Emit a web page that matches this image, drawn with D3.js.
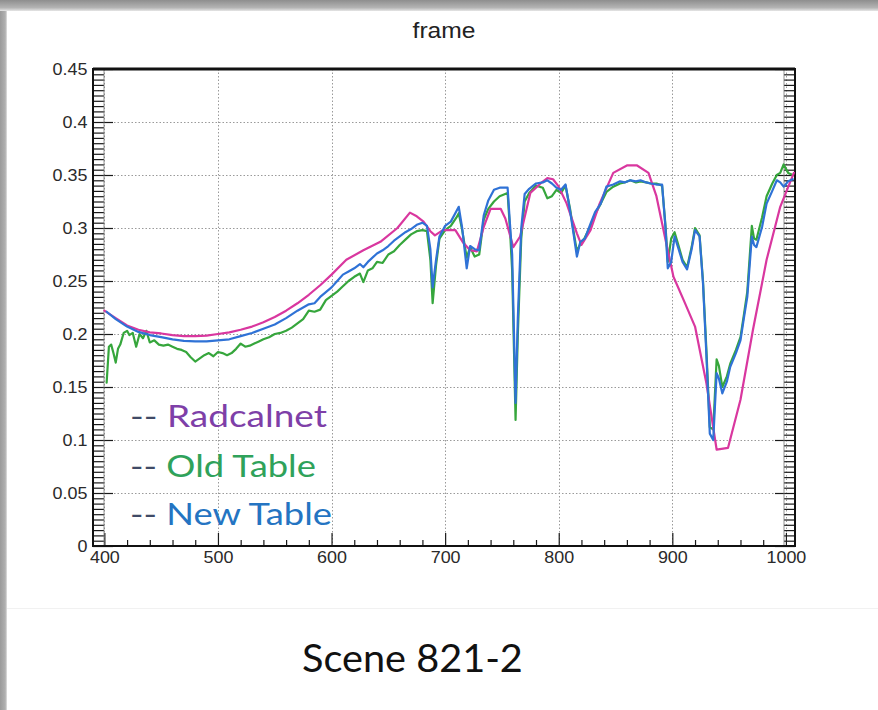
<!DOCTYPE html>
<html>
<head>
<meta charset="utf-8">
<script src="https://cdn.jsdelivr.net/npm/d3@7"></script>
<style>
  html, body { margin: 0; padding: 0; background: #ffffff; }
  svg { display: block; }
</style>
</head>
<body>
<svg id="chart" width="878" height="710"></svg>
<script>
// Reflectance spectra, [wavelength nm, reflectance]
const radcalnet = [
  [400,.222],[410,.215],[420,.208],[430,.204],[440,.2015],[450,.2005],[460,.199],[470,.198],
  [480,.198],[490,.1985],[500,.200],[510,.2015],[520,.204],[530,.207],[540,.211],[550,.216],
  [560,.222],[570,.229],[580,.237],[590,.246],[600,.256],[613,.270],[628,.279],[643,.287],
  [658,.300],[669,.3145],[675,.311],[681,.306],[687,.297],[691,.293],[698,.298],[709,.298],
  [716,.286],[722,.279],[728,.278],[734,.301],[740,.318],[749,.318],[753,.309],[760,.282],
  [766,.292],[775,.333],[784,.342],[790,.347],[795,.346],[800,.339],[807,.323],[816,.295],
  [820,.284],[828,.298],[836,.323],[848,.352],[860,.359],[869,.359],[879,.352],[886,.330],
  [894,.289],[901,.254],[910,.232],[920,.207],[930,.1535],[939,.091],[949,.0925],[960,.138],
  [971,.204],[983,.270],[995,.320],[1007,.352]
];

const oldTable = [
  [402,.154],[404,.188],[406,.190],[408,.182],[410,.173],[412,.186],[414,.190],[417,.201],
  [420,.203],[422,.199],[425,.201],[428,.188],[431,.200],[434,.196],[437,.203],[440,.192],
  [444,.194],[448,.190],[452,.189],[456,.190],[460,.188],[464,.186],[468,.185],[472,.183],
  [476,.178],[480,.174],[484,.177],[488,.180],[492,.182],[496,.179],[500,.183],[504,.182],
  [508,.180],[512,.182],[516,.186],[520,.191],[524,.188],[528,.189],[532,.191],[536,.193],
  [540,.195],[545,.197],[550,.200],[555,.201],[560,.203],[565,.206],[570,.210],[575,.214],
  [580,.222],[585,.221],[590,.223],[595,.232],[600,.236],[605,.240],[610,.245],[615,.250],
  [620,.254],[625,.257],[628,.249],[632,.260],[636,.262],[640,.268],[645,.267],[650,.275],
  [655,.278],[660,.284],[665,.289],[670,.294],[675,.297],[680,.298],[684,.297],[687,.270],
  [689,.229],[692,.265],[695,.290],[700,.298],[705,.302],[710,.310],[712,.314],[715,.298],
  [719,.272],[722,.282],[726,.273],[730,.275],[734,.308],[738,.318],[743,.325],[748,.330],
  [755,.333],[757,.300],[759,.260],[762,.119],[764,.200],[767,.290],[770,.325],[774,.333],
  [780,.340],[786,.338],[790,.328],[794,.330],[798,.336],[802,.333],[806,.340],[810,.318],
  [813,.297],[816,.278],[819,.285],[823,.291],[828,.302],[832,.313],[837,.323],[842,.334],
  [848,.339],[854,.342],[858,.343],[863,.345],[868,.343],[872,.344],[877,.343],[881,.342],
  [886,.342],[891,.340],[894,.302],[896,.268],[899,.290],[902,.296],[905,.285],[909,.270],
  [913,.263],[917,.282],[920,.300],[924,.293],[927,.250],[930,.185],[933,.112],[936,.110],
  [939,.176],[941,.170],[944,.150],[948,.160],[951,.172],[956,.185],[960,.197],[963,.218],
  [966,.240],[970,.302],[972,.290],[974,.289],[979,.310],[983,.330],[988,.342],[992,.350],
  [995,.352],[998,.360],[1002,.352],[1006,.350]
];

const newTable = [
  [402,.221],[410,.214],[420,.207],[430,.202],[440,.199],[450,.197],[460,.195],[470,.1935],
  [480,.193],[490,.193],[500,.194],[510,.195],[520,.198],[530,.201],[540,.205],[550,.209],
  [560,.215],[570,.222],[580,.228],[585,.229],[590,.235],[600,.244],[605,.250],[610,.256],
  [615,.259],[620,.262],[625,.266],[628,.263],[632,.268],[640,.276],[645,.279],[650,.283],
  [655,.288],[660,.292],[665,.296],[670,.299],[675,.303],[680,.305],[684,.302],[687,.280],
  [689,.244],[692,.270],[695,.292],[700,.302],[705,.306],[710,.316],[712,.320],[715,.300],
  [719,.262],[722,.283],[726,.280],[730,.279],[734,.312],[738,.326],[743,.336],[748,.338],
  [755,.338],[757,.305],[759,.275],[762,.135],[764,.215],[767,.300],[770,.332],[774,.337],
  [780,.342],[786,.343],[790,.345],[794,.342],[798,.338],[802,.336],[806,.341],[810,.316],
  [813,.295],[816,.273],[819,.287],[823,.290],[828,.304],[832,.315],[837,.323],[842,.339],
  [848,.341],[854,.344],[858,.343],[863,.345],[868,.344],[872,.345],[877,.343],[881,.342],
  [886,.341],[891,.341],[894,.300],[896,.262],[899,.268],[902,.292],[905,.282],[909,.268],
  [913,.261],[917,.280],[920,.298],[924,.292],[927,.248],[930,.180],[933,.106],[936,.100],
  [939,.163],[941,.158],[944,.144],[948,.155],[951,.169],[956,.182],[960,.194],[963,.215],
  [966,.235],[970,.292],[972,.284],[974,.282],[979,.301],[983,.323],[988,.335],[992,.345],
  [995,.343],[998,.339],[1002,.344],[1006,.346]
];

const xTickValues = [400, 500, 600, 700, 800, 900, 1000];
const yTickValues = [0, 0.05, 0.1, 0.15, 0.2, 0.25, 0.3, 0.35, 0.4, 0.45];
const yTickLabels = ["0", "0.05", "0.1", "0.15", "0.2", "0.25", "0.3", "0.35", "0.4", "0.45"];
const legendNames = ["Radcalnet", "Old Table", "New Table"];
const chartTitle = "frame";
const caption = "Scene 821-2";

const svg = d3.select("#chart");
const W = 878, H = 710;

// ---- slide background with gray shadow edges ----
const defs = svg.append("defs");
const gTop = defs.append("linearGradient").attr("id", "topShade")
  .attr("x1", 0).attr("y1", 0).attr("x2", 0).attr("y2", 1);
gTop.append("stop").attr("offset", "0%").attr("stop-color", "#8e8e8e");
gTop.append("stop").attr("offset", "70%").attr("stop-color", "#b4b4b4");
gTop.append("stop").attr("offset", "100%").attr("stop-color", "#e6e6e6");
const gLeft = defs.append("linearGradient").attr("id", "leftShade")
  .attr("x1", 0).attr("y1", 0).attr("x2", 1).attr("y2", 0);
gLeft.append("stop").attr("offset", "0%").attr("stop-color", "#9a9a9a");
gLeft.append("stop").attr("offset", "75%").attr("stop-color", "#b0b0b0");
gLeft.append("stop").attr("offset", "100%").attr("stop-color", "#e2e2e2");

svg.append("rect").attr("width", W).attr("height", H).attr("fill", "#ffffff");
svg.append("rect").attr("x", 0).attr("y", 0).attr("width", 7).attr("height", H).attr("fill", "url(#leftShade)");
svg.append("rect").attr("x", 0).attr("y", 0).attr("width", W).attr("height", 11).attr("fill", "url(#topShade)");
svg.append("line").attr("x1", 7).attr("x2", W).attr("y1", 608.5).attr("y2", 608.5)
  .attr("stroke", "#f1f1f1").attr("stroke-width", 1);

// ---- scales ----
const x = d3.scaleLinear().domain([390, 1008]).range([93, 795]);
const y = d3.scaleLinear().domain([0, 0.45]).range([546, 69]);
const [x0, x1] = x.range();
const [y0, y1] = y.range();

// ---- dotted grid ----
const grid = svg.append("g").attr("stroke", "#9a9a9a").attr("stroke-width", 1)
  .attr("stroke-dasharray", "1.5,2");
grid.selectAll(".gy").data(yTickValues.slice(1, -1)).join("line")
  .attr("x1", x0).attr("x2", x1)
  .attr("y1", d => Math.round(y(d)) + 0.5).attr("y2", d => Math.round(y(d)) + 0.5);
grid.selectAll(".gx").data(xTickValues).join("line")
  .attr("y1", y1).attr("y2", y0)
  .attr("x1", d => Math.round(x(d)) + 0.5).attr("x2", d => Math.round(x(d)) + 0.5);

// ---- axes (ticks inside the frame) ----
const yMinor = d3.range(0, 91).map(i => i * 0.005)
  .filter(v => !yTickValues.some(t => Math.abs(t - v) < 1e-9));
const xMinor = d3.range(400, 1001, 20).filter(v => v % 100 !== 0);

function styleAxis(g) {
  g.select(".domain").remove();
  g.selectAll(".tick line").attr("stroke", "#1a1a1a").attr("stroke-width", 1.2);
}

svg.append("g").attr("transform", `translate(${x0},0)`)
  .call(d3.axisLeft(y).tickValues(yMinor).tickSize(-11).tickFormat(""))
  .call(styleAxis);
svg.append("g").attr("transform", `translate(${x1},0)`)
  .call(d3.axisRight(y).tickValues(yMinor).tickSize(-11).tickFormat(""))
  .call(styleAxis);
svg.append("g").attr("transform", `translate(${x1},0)`)
  .call(d3.axisRight(y).tickValues(yTickValues).tickSize(-20).tickFormat(""))
  .call(styleAxis);

const yAxis = svg.append("g").attr("transform", `translate(${x0},0)`)
  .call(d3.axisLeft(y).tickValues(yTickValues).tickSize(-20).tickPadding(5)
    .tickFormat((d, i) => yTickLabels[i]))
  .call(styleAxis);

svg.append("g").attr("transform", `translate(0,${y0})`)
  .call(d3.axisBottom(x).tickValues(xMinor).tickSize(-6).tickFormat(""))
  .call(styleAxis);
const xAxis = svg.append("g").attr("transform", `translate(0,${y0})`)
  .call(d3.axisBottom(x).tickValues(xTickValues).tickSize(-13).tickPadding(6)
    .tickFormat(d3.format("d")))
  .call(styleAxis);

// thin rails at the tick ends give the ladder look
svg.append("line").attr("x1", x0 + 11).attr("x2", x0 + 11).attr("y1", y1).attr("y2", y0)
  .attr("stroke", "#777").attr("stroke-width", 0.8);
svg.append("line").attr("x1", x1 - 11).attr("x2", x1 - 11).attr("y1", y1).attr("y2", y0)
  .attr("stroke", "#777").attr("stroke-width", 0.8);

[yAxis, xAxis].forEach(g => g.selectAll(".tick text")
  .attr("font-family", "'Liberation Sans', Arial, sans-serif")
  .attr("font-size", 16).attr("fill", "#2a2a2a")
  .attr("transform", "scale(1.12,1)"));

// frame
svg.append("rect").attr("x", x0).attr("y", y1).attr("width", x1 - x0).attr("height", y0 - y1)
  .attr("fill", "none").attr("stroke", "#111").attr("stroke-width", 2);
svg.append("line").attr("x1", x0).attr("x2", x1).attr("y1", y1).attr("y2", y1)
  .attr("stroke", "#111").attr("stroke-width", 3);

// title
svg.append("text")
  .attr("transform", `translate(${(x0 + x1) / 2},38) scale(1.12,1)`)
  .attr("text-anchor", "middle")
  .attr("font-family", "'Liberation Sans', Arial, sans-serif")
  .attr("font-size", 22).attr("fill", "#222")
  .text(chartTitle);

// ---- spectra ----
const line = d3.line().x(d => x(d[0])).y(d => y(d[1]));
const series = [
  { data: oldTable, color: "#36a63c" },
  { data: radcalnet, color: "#d9379f" },
  { data: newTable, color: "#2f72d6" }
];
const plot = svg.append("g");
series.forEach(s => {
  plot.append("path").datum(s.data)
    .attr("fill", "none").attr("stroke", s.color).attr("stroke-width", 2.2)
    .attr("stroke-linejoin", "round").attr("stroke-linecap", "round")
    .attr("d", line);
});

// ---- legend text ----
const legendColors = ["#7e3fa8", "#2fa25a", "#2474c2"];
const legendBase = [427, 477, 525];
const legendWidths = [197, 186, 202];
legendNames.forEach((name, i) => {
  const t = svg.append("text")
    .attr("font-family", "Lato, 'Open Sans', sans-serif")
    .attr("font-size", 31);
  t.append("tspan").attr("fill", "#404a66").text("-- ");
  t.append("tspan").attr("fill", legendColors[i]).text(name);
  const k = legendWidths[i] / t.node().getComputedTextLength();
  t.attr("transform", `translate(130,${legendBase[i]}) scale(${k},1)`);
});

// ---- caption ----
const cap = svg.append("text")
  .attr("font-family", "Lato, 'Open Sans', sans-serif")
  .attr("font-size", 38).attr("fill", "#111")
  .text(caption);
const ck = 221 / cap.node().getComputedTextLength();
cap.attr("transform", `translate(302,672) scale(${ck},1)`);
</script>
</body>
</html>
